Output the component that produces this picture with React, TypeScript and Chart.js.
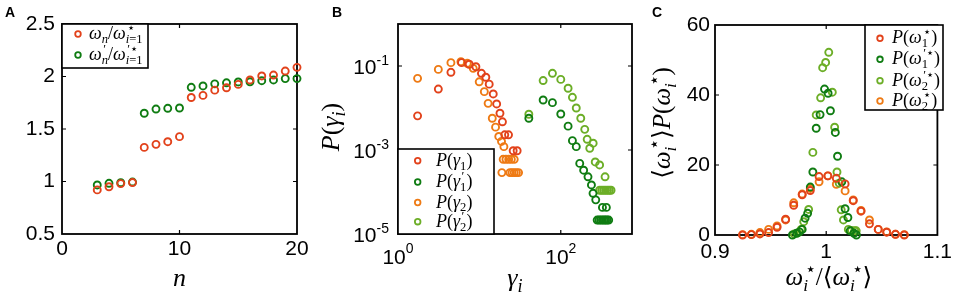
import { useEffect, useRef } from "react";
import { Chart, registerables } from "chart.js";
Chart.register(...registerables);

// ---------- Panel A data ----------
const nValues = [3, 4, 5, 6, 7, 8, 9, 10, 11, 12, 13, 14, 15, 16, 17, 18, 19, 20];
const omegaRatio = [0.92, 0.95, 0.98, 0.99, 1.325, 1.354, 1.379, 1.427, 1.8, 1.82, 1.87, 1.893, 1.925, 1.967, 2.005, 2.014, 2.052, 2.087];
const omegaPrimeRatio = [0.967, 0.983, 0.989, 0.995, 1.65, 1.69, 1.697, 1.7, 1.897, 1.91, 1.93, 1.94, 1.948, 1.95, 1.96, 1.967, 1.98, 1.98];
const aXTicks = [0, 10, 20];
const aYTicks = [0.5, 1, 1.5, 2, 2.5];

// ---------- Panel B data ----------
const gamma1X = [1.74, 3.13, 4.47, 6.04, 7.5, 9.06, 10.6, 12.0, 13.2, 14.8, 16.3, 17.9, 19.2, 20.5, 22.8, 26.0, 29.1];
const gamma1P = [6.5e-3, 2.83e-2, 7.07e-2, 0.12, 0.11, 0.096, 0.067, 0.054, 0.037, 0.0216, 0.0125, 7.5e-3, 4.7e-3, 2.3e-3, 2.3e-3, 9.6e-4, 9.6e-4];
const gamma1pX = [40.5, 60.7, 79, 100, 123, 139, 155, 171, 191, 216, 238, 249, 269, 325, 363, 280, 295, 310, 325, 340, 355, 370, 388];
const gamma1pP = [5.7e-3, 0.0155, 0.0134, 7.2e-3, 3.7e-3, 1.67e-3, 1.2e-3, 4.8e-4, 3.3e-4, 2.3e-4, 1.47e-4, 9.3e-5, 6.5e-5, 4.3e-5, 4.3e-5, 2.15e-5, 2.15e-5, 2.15e-5, 2.15e-5, 2.15e-5, 2.15e-5, 2.15e-5, 2.15e-5];
const gamma2X = [1.74, 3.13, 4.47, 5.93, 7.1, 8.4, 9.95, 11.5, 12.8, 14.4, 15.8, 17.3, 18.7, 20.0, 19.6, 21.2, 22.9, 24.7, 26.8, 18.9, 23.7, 25.2, 26.8, 28.5, 30.3];
const gamma2P = [0.0508, 0.083, 0.12, 0.127, 0.116, 0.088, 0.042, 0.0245, 0.0129, 5.7e-3, 3.5e-3, 2.1e-3, 1.6e-3, 1.2e-3, 6e-4, 6e-4, 6e-4, 6e-4, 6e-4, 2.9e-4, 2.9e-4, 2.9e-4, 2.9e-4, 2.9e-4, 2.9e-4];
const gamma2pX = [40.5, 60.7, 79, 100, 123, 139, 155, 176, 197, 211, 227, 250, 265, 300, 350, 300, 318, 336, 355, 375, 395, 415];
const gamma2pP = [7.1e-3, 0.045, 0.067, 0.048, 0.0295, 0.018, 0.01, 5.7e-3, 3.1e-3, 1.8e-3, 1.1e-3, 1.45e-3, 5.2e-4, 4.4e-4, 2.3e-4, 1.1e-4, 1.1e-4, 1.1e-4, 1.1e-4, 1.1e-4, 1.1e-4, 1.1e-4];
const bXTicks = [1, 100];
const bYTicks = [1e-5, 1e-3, 1e-1];

// ---------- Panel C data ----------
const omega1X = [0.9248, 0.9327, 0.9404, 0.9482, 0.9558, 0.9635, 0.9708, 0.9784, 0.9857, 0.9936, 1.0015, 1.0091, 1.017, 1.0243, 1.0313, 1.0389, 1.0468, 1.0544, 1.0623, 1.0702];
const omega1Y = [0, 0.1, 0.3, 0.7, 2.2, 4.5, 8.5, 11.5, 12.7, 16.7, 16.9, 16.2, 14.6, 9.8, 6.8, 3.2, 1.6, 0.8, 0.2, 0];
const omega2X = [0.9248, 0.9327, 0.9404, 0.9482, 0.9558, 0.9635, 0.9708, 0.9784, 0.9857, 0.9936, 1.0015, 1.0091, 1.017, 1.0243, 1.0313, 1.0389, 1.0468, 1.0544, 1.0623, 1.0702];
const omega2Y = [0.1, 0.2, 0.7, 1.6, 2.6, 4.3, 9.2, 11.7, 13.3, 15.2, 16.9, 14.5, 12.6, 10.0, 7.0, 4.3, 1.6, 0.9, 0.2, 0.1];
const omega1pX = [0.9696, 0.9734, 0.976, 0.9784, 0.981, 0.9833, 0.9857, 0.988, 0.991, 0.9945, 0.9985, 1.0017, 1.0038, 1.0082, 1.0102, 1.014, 1.017, 1.0195, 1.0215, 1.025, 1.0272];
const omega1pY = [0, 0.5, 0.9, 1.6, 4.8, 6.2, 13.7, 18.0, 30.5, 34.4, 41.7, 40.5, 35.5, 29.3, 22.5, 15.2, 7.5, 5.0, 1.2, 0.5, 0];
const omega2pX = [0.9713, 0.9745, 0.9775, 0.9798, 0.9842, 0.988, 0.991, 0.995, 0.9968, 0.9995, 1.0023, 1.0055, 1.0076, 1.0097, 1.0117, 1.0135, 1.0155, 1.0199, 1.0228, 1.0257, 1.027];
const omega2pY = [0.3, 0.6, 1.6, 3.8, 7.3, 23.6, 34.3, 39.2, 47.8, 49.3, 52.2, 40.8, 30.8, 18.0, 14.8, 7.2, 4.3, 1.6, 1.3, 1.2, 1.2];
const cXTicks = [0.9, 1, 1.1];
const cYTicks = [0, 20, 40, 60];

// ---------- styling ----------
const FONT_SANS = "'Liberation Sans', Arial, Helvetica, sans-serif";
const FONT_MATH = "'Liberation Serif', 'DejaVu Serif', 'Times New Roman', serif";
const RED = "#e2421b";
const DKGREEN = "#0f7c12";
const ORANGE = "#ee7a14";
const LTGREEN = "#6cae27";
const TICK_SIZE = 21;

type MSeg = { b: string; sup?: string; sub?: string };

function isIt(c: string) {
  return /[A-Za-z\u03b1-\u03c9\u0391-\u03a9]/.test(c);
}
function splitRuns(s: string): [string, boolean][] {
  const out: [string, boolean][] = [];
  for (const c of Array.from(s)) {
    const it = isIt(c);
    if (out.length && out[out.length - 1][1] === it) out[out.length - 1][0] += c;
    else out.push([c, it]);
  }
  return out;
}
function setF(ctx: CanvasRenderingContext2D, it: boolean, size: number) {
  ctx.font = `${it ? "italic " : ""}${size}px ${FONT_MATH}`;
}
function strW(ctx: CanvasRenderingContext2D, s: string, size: number) {
  let w = 0;
  for (const [t, it] of splitRuns(s)) {
    setF(ctx, it, size);
    w += ctx.measureText(t).width;
  }
  return w;
}
function strD(ctx: CanvasRenderingContext2D, s: string, x: number, y: number, size: number) {
  let cx = x;
  for (const [t, it] of splitRuns(s)) {
    setF(ctx, it, size);
    ctx.fillText(t, cx, y);
    cx += ctx.measureText(t).width;
  }
  return cx - x;
}
function mathW(ctx: CanvasRenderingContext2D, segs: MSeg[], size: number) {
  const s2 = size * 0.7;
  let w = 0;
  for (const g of segs) {
    w += strW(ctx, g.b, size);
    const a = g.sup ? strW(ctx, g.sup, s2) + 1.5 : 0;
    const b = g.sub ? strW(ctx, g.sub, s2) : 0;
    w += Math.max(a, b);
  }
  return w;
}
function drawMath(ctx: CanvasRenderingContext2D, segs: MSeg[], x: number, y: number, size: number, align: "left" | "center") {
  ctx.textAlign = "left";
  ctx.textBaseline = "alphabetic";
  const s2 = size * 0.7;
  let cx = align === "center" ? x - mathW(ctx, segs, size) / 2 : x;
  for (const g of segs) {
    cx += strD(ctx, g.b, cx, y, size);
    let a = 0;
    let b = 0;
    if (g.sup) a = strD(ctx, g.sup, cx + 1.5, y - size * 0.4, s2) + 1.5;
    if (g.sub) b = strD(ctx, g.sub, cx, y + size * 0.22, s2);
    cx += Math.max(a, b);
  }
}

type LegendCfg = {
  x: number; y: number; w: number; h: number;
  mx: number; tx: number; rows: number[]; size: number;
  items: { color: string; segs: MSeg[] }[];
};
type TitleCfg = { segs: MSeg[]; x: number; y: number; size: number; rotate?: boolean };
type DecoCfg = {
  letter: string; lx: number; ly: number;
  legend: LegendCfg;
  titles: TitleCfg[];
  pow?: boolean;
};

function makeDeco(cfg: DecoCfg) {
  return {
    id: "deco",
    beforeDatasetsDraw(chart: any) {
      const ctx: CanvasRenderingContext2D = chart.ctx;
      const a = chart.chartArea;
      ctx.save();
      ctx.strokeStyle = "#000";
      ctx.lineWidth = 1.2;
      const L = 4;
      const xs = chart.scales.x;
      const ys = chart.scales.y;
      ctx.beginPath();
      for (const t of xs.ticks) {
        const p = xs.getPixelForValue(t.value);
        if (p <= a.left + 1 || p >= a.right - 1) continue;
        ctx.moveTo(p, a.bottom); ctx.lineTo(p, a.bottom - L);
        ctx.moveTo(p, a.top); ctx.lineTo(p, a.top + L);
      }
      for (const t of ys.ticks) {
        const p = ys.getPixelForValue(t.value);
        if (p <= a.top + 1 || p >= a.bottom - 1) continue;
        ctx.moveTo(a.left, p); ctx.lineTo(a.left + L, p);
        ctx.moveTo(a.right, p); ctx.lineTo(a.right - L, p);
      }
      ctx.stroke();
      ctx.lineWidth = 1.8;
      ctx.strokeRect(a.left, a.top, a.right - a.left, a.bottom - a.top);
      ctx.restore();
    },
    afterDatasetsDraw(chart: any) {
      const ctx: CanvasRenderingContext2D = chart.ctx;
      const L = cfg.legend;
      ctx.save();
      ctx.fillStyle = "#fff";
      ctx.fillRect(L.x, L.y, L.w, L.h);
      ctx.strokeStyle = "#000";
      ctx.lineWidth = 1.6;
      ctx.strokeRect(L.x, L.y, L.w, L.h);
      L.items.forEach((it, i) => {
        ctx.beginPath();
        ctx.strokeStyle = it.color;
        ctx.lineWidth = 1.8;
        ctx.arc(L.mx, L.rows[i], 2.8, 0, Math.PI * 2);
        ctx.stroke();
        ctx.fillStyle = "#000";
        drawMath(ctx, it.segs, L.tx, L.rows[i] + 5, L.size, "left");
      });
      ctx.restore();
    },
    afterDraw(chart: any) {
      const ctx: CanvasRenderingContext2D = chart.ctx;
      const a = chart.chartArea;
      ctx.save();
      ctx.fillStyle = "#000";
      ctx.font = `bold 14px ${FONT_SANS}`;
      ctx.textAlign = "left";
      ctx.textBaseline = "alphabetic";
      ctx.fillText(cfg.letter, cfg.lx, cfg.ly);
      for (const t of cfg.titles) {
        if (t.rotate) {
          ctx.save();
          ctx.translate(t.x, t.y);
          ctx.rotate(-Math.PI / 2);
          drawMath(ctx, t.segs, 0, 0, t.size, "center");
          ctx.restore();
        } else {
          drawMath(ctx, t.segs, t.x, t.y, t.size, "center");
        }
      }
      if (cfg.pow) {
        const xs = chart.scales.x;
        const ys = chart.scales.y;
        const big = `${TICK_SIZE}px ${FONT_SANS}`;
        const small = `14px ${FONT_SANS}`;
        ctx.textAlign = "left";
        ctx.textBaseline = "alphabetic";
        for (const t of ys.ticks) {
          const p = ys.getPixelForValue(t.value);
          const e = String(Math.round(Math.log10(t.value)));
          ctx.font = small;
          const we = ctx.measureText(e).width;
          ctx.font = big;
          const wb = ctx.measureText("10").width;
          const right = a.left - 9;
          ctx.fillText("10", right - we - wb, p + 8);
          ctx.font = small;
          ctx.fillText(e, right - we, p - 1);
        }
        for (const t of xs.ticks) {
          const p = xs.getPixelForValue(t.value);
          const e = String(Math.round(Math.log10(t.value)));
          ctx.font = small;
          const we = ctx.measureText(e).width;
          ctx.font = big;
          const wb = ctx.measureText("10").width;
          const left = p - (wb + we) / 2;
          ctx.fillText("10", left, a.bottom + 30);
          ctx.font = small;
          ctx.fillText(e, left + wb, a.bottom + 19);
        }
      }
      ctx.restore();
    },
  };
}

function pts(xs: number[], ys: number[]) {
  return xs.map((x, i) => ({ x, y: ys[i] }));
}
function ds(label: string, data: { x: number; y: number }[], color: string) {
  return {
    label,
    data,
    pointStyle: "circle",
    pointRadius: 3.5,
    pointHoverRadius: 3.5,
    pointBorderWidth: 1.9,
    pointBorderColor: color,
    pointBackgroundColor: "rgba(0,0,0,0)",
    borderColor: color,
    showLine: false,
    clip: false,
  };
}
function axis(kind: "x" | "y", type: string, min: number, max: number, ticks: number[], pad: number, showLabels: boolean, size: number) {
  return {
    type,
    min,
    max,
    afterBuildTicks: (s: any) => {
      s.ticks = ticks.map((v) => ({ value: v }));
    },
    afterFit: (s: any) => {
      if (kind === "x") s.height = size;
      else s.width = size;
    },
    grid: { display: false, drawTicks: false },
    border: { display: false },
    ticks: {
      display: showLabels,
      color: "#000",
      font: { family: FONT_SANS, size: TICK_SIZE },
      padding: pad,
      autoSkip: false,
      maxRotation: 0,
      callback: (v: any) => String(v),
    },
  };
}
function baseOptions(padding: any, scales: any) {
  return {
    responsive: false,
    animation: false,
    devicePixelRatio: 1,
    events: [],
    layout: { padding },
    plugins: { legend: { display: false }, tooltip: { enabled: false } },
    scales,
  };
}

function configA(): any {
  return {
    type: "scatter",
    data: {
      datasets: [
        ds("omega", pts(nValues, omegaRatio), RED),
        ds("omegaPrime", pts(nValues, omegaPrimeRatio), DKGREEN),
      ],
    },
    options: baseOptions(
      { left: 0, right: 23, top: 24, bottom: 0 },
      {
        x: axis("x", "linear", 0, 20, aXTicks, 3, true, 66),
        y: axis("y", "linear", 0.5, 2.5, aYTicks, 7, true, 62),
      }
    ),
    plugins: [
      makeDeco({
        letter: "A", lx: 5, ly: 17,
        legend: {
          x: 62, y: 24, w: 86, h: 44, mx: 78, tx: 89, rows: [34, 55], size: 18,
          items: [
            { color: RED, segs: [{ b: "ω", sub: "n" }, { b: "/" }, { b: "ω", sup: "⋆", sub: "i=1" }] },
            { color: DKGREEN, segs: [{ b: "ω", sup: "′", sub: "n" }, { b: "/" }, { b: "ω", sup: "′⋆", sub: "i=1" }] },
          ],
        },
        titles: [{ segs: [{ b: "n" }], x: 179.5, y: 286, size: 26 }],
      }),
    ],
  };
}

function configB(): any {
  return {
    type: "scatter",
    data: {
      datasets: [
        ds("gamma1", pts(gamma1X, gamma1P), RED),
        ds("gamma1p", pts(gamma1pX, gamma1pP), DKGREEN),
        ds("gamma2", pts(gamma2X, gamma2P), ORANGE),
        ds("gamma2p", pts(gamma2pX, gamma2pP), LTGREEN),
      ],
    },
    options: baseOptions(
      { left: 0, right: 8, top: 24, bottom: 0 },
      {
        x: axis("x", "logarithmic", 1, 750, bXTicks, 4, false, 66),
        y: axis("y", "logarithmic", 1e-5, 1, bYTicks, 7, false, 78),
      }
    ),
    plugins: [
      makeDeco({
        letter: "B", lx: 12, ly: 17, pow: true,
        legend: {
          x: 78, y: 149, w: 96, h: 85, mx: 97.7, tx: 116, rows: [160.7, 182, 202.5, 221.7], size: 18,
          items: [
            { color: RED, segs: [{ b: "P(" }, { b: "γ", sub: "1" }, { b: ")" }] },
            { color: DKGREEN, segs: [{ b: "P(" }, { b: "γ", sup: "′", sub: "1" }, { b: ")" }] },
            { color: ORANGE, segs: [{ b: "P(" }, { b: "γ", sub: "2" }, { b: ")" }] },
            { color: LTGREEN, segs: [{ b: "P(" }, { b: "γ", sup: "′", sub: "2" }, { b: ")" }] },
          ],
        },
        titles: [
          { segs: [{ b: "γ", sub: "i" }], x: 195, y: 286, size: 26 },
          { segs: [{ b: "P(" }, { b: "γ", sub: "i" }, { b: ")" }], x: 19, y: 127, size: 26, rotate: true },
        ],
      }),
    ],
  };
}

function configC(): any {
  return {
    type: "scatter",
    data: {
      datasets: [
        ds("omega1", pts(omega1X, omega1Y), RED),
        ds("omega1p", pts(omega1pX, omega1pY), DKGREEN),
        ds("omega2p", pts(omega2pX, omega2pY), LTGREEN),
        ds("omega2", pts(omega2X, omega2Y), ORANGE),
      ],
    },
    options: baseOptions(
      { left: 0, right: 14, top: 25, bottom: 0 },
      {
        x: axis("x", "linear", 0.9, 1.1, cXTicks, 5, true, 65),
        y: axis("y", "linear", 0, 60, cYTicks, 5, true, 75),
      }
    ),
    plugins: [
      makeDeco({
        letter: "C", lx: 12, ly: 17,
        legend: {
          x: 225, y: 25, w: 78, h: 85, mx: 240, tx: 252, rows: [38.3, 59.3, 80.7, 101], size: 18,
          items: [
            { color: RED, segs: [{ b: "P(" }, { b: "ω", sup: "⋆", sub: "1" }, { b: ")" }] },
            { color: DKGREEN, segs: [{ b: "P(" }, { b: "ω", sup: "′⋆", sub: "1" }, { b: ")" }] },
            { color: LTGREEN, segs: [{ b: "P(" }, { b: "ω", sup: "′⋆", sub: "2" }, { b: ")" }] },
            { color: ORANGE, segs: [{ b: "P(" }, { b: "ω", sup: "⋆", sub: "2" }, { b: ")" }] },
          ],
        },
        titles: [
          { segs: [{ b: "ω", sup: "⋆", sub: "i" }, { b: "/⟨" }, { b: "ω", sup: "⋆", sub: "i" }, { b: "⟩" }], x: 189, y: 285, size: 25 },
          { segs: [{ b: "⟨" }, { b: "ω", sup: "⋆", sub: "i" }, { b: "⟩P(" }, { b: "ω", sup: "⋆", sub: "i" }, { b: ")" }], x: 30, y: 123, size: 25, rotate: true },
        ],
      }),
    ],
  };
}

export default function App() {
  const refA = useRef<HTMLCanvasElement>(null);
  const refB = useRef<HTMLCanvasElement>(null);
  const refC = useRef<HTMLCanvasElement>(null);
  useEffect(() => {
    const charts: Chart[] = [];
    if (refA.current) charts.push(new Chart(refA.current, configA()));
    if (refB.current) charts.push(new Chart(refB.current, configB()));
    if (refC.current) charts.push(new Chart(refC.current, configC()));
    return () => charts.forEach((c) => c.destroy());
  }, []);
  const cs = (left: number, width: number): any => ({ position: "absolute", left, top: 0, width, height: 300 });
  return (
    <div style={{ position: "fixed", left: 0, top: 0, width: 957, height: 300, background: "#fff" }}>
      <canvas ref={refA} width={320} height={300} style={cs(0, 320)} />
      <canvas ref={refB} width={320} height={300} style={cs(320, 320)} />
      <canvas ref={refC} width={317} height={300} style={cs(640, 317)} />
    </div>
  );
}
